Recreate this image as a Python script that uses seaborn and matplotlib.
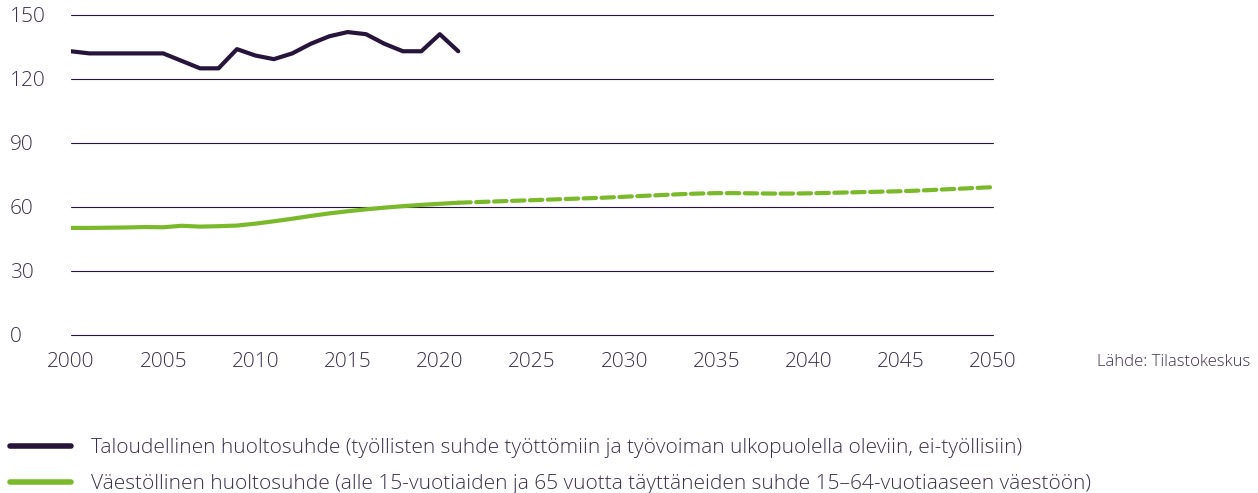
import seaborn as sns
import matplotlib.pyplot as plt
import pandas as pd

years_hist = list(range(2000, 2022))
taloudellinen = [133, 132, 132, 132, 132, 132, 128.5, 125, 125, 134, 131, 129.3,
                 132, 136.5, 140, 142, 141, 136.5, 133, 133, 141, 133]
vaestollinen = [50.2, 50.2, 50.3, 50.4, 50.6, 50.5, 51.2, 50.8, 51.0, 51.3, 52.2, 53.3,
                54.5, 55.8, 57.0, 58.0, 58.9, 59.7, 60.4, 61.0, 61.5, 62.0]
years_proj = list(range(2021, 2051))
vaestollinen_ennuste = [62.0, 62.3, 62.6, 62.9, 63.2, 63.5, 63.8, 64.1, 64.4, 64.8,
                        65.2, 65.6, 66.0, 66.3, 66.5, 66.5, 66.4, 66.3, 66.3, 66.4,
                        66.6, 66.8, 67.0, 67.2, 67.4, 67.7, 68.1, 68.5, 68.9, 69.3]
label_tal = "Taloudellinen huoltosuhde (työllisten suhde työttömiin ja työvoiman ulkopuolella oleviin, ei-työllisiin)"
label_vae = "Väestöllinen huoltosuhde (alle 15-vuotiaiden ja 65 vuotta täyttäneiden suhde 15\u201364-vuotiaaseen väestöön)"
source = "Lähde: Tilastokeskus"

dark = "#27143b"
green = "#7aba2a"
textc = "#3b2f4b"

sns.set_theme(style="white")
plt.rcParams['font.family'] = ['Open Sans', 'DejaVu Sans']
plt.rcParams['font.weight'] = 'light'

df_hist = pd.DataFrame({'vuosi': years_hist, 'tal': taloudellinen, 'vae': vaestollinen})
df_proj = pd.DataFrame({'vuosi': years_proj, 'vae': vaestollinen_ennuste})

fig = plt.figure(figsize=(12.58, 4.93), dpi=100)
ax = fig.add_axes([71 / 1258, 1 - 335 / 493, (993 - 71) / 1258, (335 - 15) / 493])

sns.lineplot(data=df_hist, x='vuosi', y='tal', ax=ax, color=dark, linewidth=3, label=label_tal)
sns.lineplot(data=df_hist, x='vuosi', y='vae', ax=ax, color=green, linewidth=3, label=label_vae)
sns.lineplot(data=df_proj, x='vuosi', y='vae', ax=ax, color=green, linewidth=3,
             linestyle=(0, (3, 1.3)), dash_capstyle='round')

ax.set_xlim(2000, 2050)
ax.set_ylim(0, 150)
ax.set_xticks(range(2000, 2051, 5))
ax.set_yticks(range(0, 151, 30))
ax.set_xlabel("")
ax.set_ylabel("")
for s in ax.spines.values():
    s.set_visible(False)
ax.grid(axis='y', color=dark, linewidth=0.8)
for gl in ax.get_ygridlines():
    gl.set_clip_on(False)
ax.set_axisbelow(True)
ax.tick_params(axis='both', length=0, labelsize=15, labelcolor=textc)
ax.tick_params(axis='x', pad=12)
ax.tick_params(axis='y', pad=44)
for lab in ax.get_yticklabels():
    lab.set_horizontalalignment('left')

handles, labels = ax.get_legend_handles_labels()
ax.legend_.remove()
leg = fig.legend(handles[:2], labels[:2], loc='upper left', bbox_to_anchor=(2 / 1258, 1 - 430 / 493),
                 borderaxespad=0, frameon=False, fontsize=15, handlelength=2.9,
                 handletextpad=0.95, labelspacing=0.75)
for t in leg.get_texts():
    t.set_color(textc)
for h in leg.legend_handles:
    h.set_linewidth(4)

fig.text(1250 / 1258, 1 - 362 / 493, source, ha='right', va='center', fontsize=12, color=textc)

fig.savefig('out.png', dpi=100)
